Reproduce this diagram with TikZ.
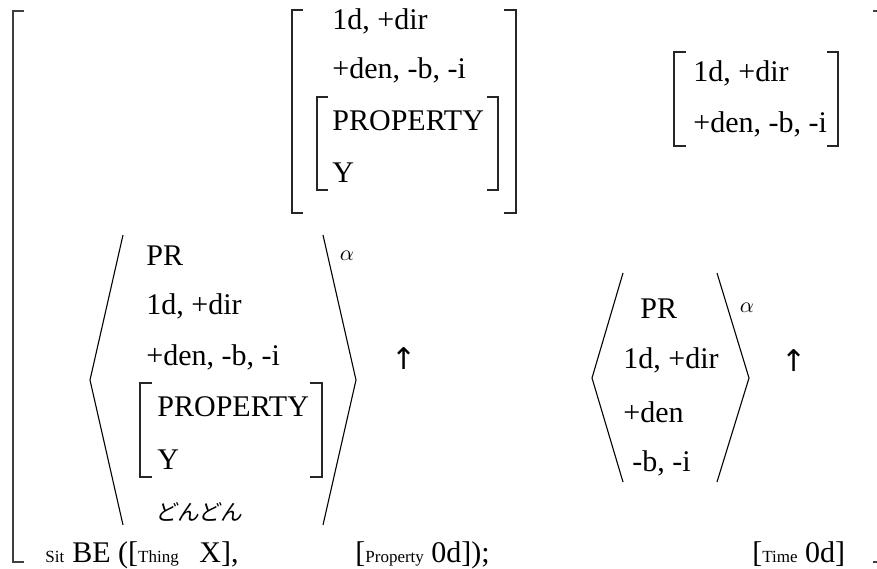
\documentclass[tikz,border=0pt]{standalone}
\usepackage{fontspec}
\setmainfont{Liberation Serif}
\newfontfamily\jpfont[FakeSlant=0.15]{Noto Sans CJK JP}
\newfontfamily\symfont{DejaVu Sans}
\newcommand{\subfont}{\fontsize{8.5}{10}\selectfont}

\begin{document}
\begin{tikzpicture}[x=0.5pt,y=-0.5pt,
  feat/.style={anchor=west,inner sep=0pt,font=\fontsize{15}{18}\selectfont},
  base/.style={anchor=base west,inner sep=0pt,font=\fontsize{15}{18}\selectfont},
  sup/.style={inner sep=0pt,font=\fontsize{11}{12}\selectfont},
  uparr/.style={inner sep=0pt,font=\fontsize{15}{16}\symfont},
  brk/.style={draw=black!85,line width=0.6pt},
  outer/.style={draw=black!75,line width=0.9pt},
  ang/.style={draw=black,line width=0.55pt}]
\useasboundingbox (0,0) rectangle (877,568);
% outer brackets
\draw[outer] (24,11)--(13,11)--(13,562)--(24,562);
\draw[outer] (873,11)--(878.6,11)--(878.6,562)--(873,562);
% top middle matrix
\node[feat] (t1) at (332,21) {1d, +dir};
\node[feat] (t2) at (332,70) {+den, -b, -i};
\node[feat] (t3) at (332,121) {PROPERTY};
\node[feat] (t4) at (332,173) {Y};
\draw[brk] (303,10)--(292,10)--(292,213)--(303,213);
\draw[brk] (504,10)--(516,10)--(516,213)--(504,213);
\draw[brk] (328,97)--(317,97)--(317,190)--(328,190);
\draw[brk] (487,97)--(498,97)--(498,190)--(487,190);
% top right matrix
\node[feat] (r1) at (693,73) {1d, +dir};
\node[feat] (r2) at (693,124) {+den, -b, -i};
\draw[brk] (686,52)--(674,52)--(674,146)--(686,146);
\draw[brk] (827,52)--(838,52)--(838,146)--(827,146);
% left angle group
\node[feat] (a1) at (146,256) {PR};
\node[feat] (a2) at (146,306) {1d, +dir};
\node[feat] (a3) at (146,357) {+den, -b, -i};
\node[feat] (a4) at (157,407) {PROPERTY};
\node[feat] (a5) at (157,460) {Y};
\node[feat,font=\fontsize{11}{13}\jpfont] (a6) at (155,512) {どんどん};
\draw[brk] (152,383)--(140,383)--(140,477)--(152,477);
\draw[brk] (310,383)--(322,383)--(322,477)--(310,477);
\draw[ang] (123,235)--(90,380)--(123,525);
\draw[ang] (323,235)--(356,380)--(323,525);
\node[sup] (alpha1) at (347,256) {$\alpha$};
\node[uparr] (up1) at (404,359) {↑};
% right angle group
\node[feat] (b1) at (640,309) {PR};
\node[feat] (b2) at (623,360) {1d, +dir};
\node[feat] (b3) at (623,412) {+den};
\node[feat] (b4) at (632,463) {-b, -i};
\draw[ang] (623,273)--(592,378)--(623,482);
\draw[ang] (717,273)--(749,378)--(717,482);
\node[sup] (alpha2) at (747,308) {$\alpha$};
\node[uparr] (up2) at (794,361) {↑};
% bottom line
\node[base] (sit) at (45,562) {\subfont Sit};
\node[base] (be) at (72,562) {BE ([{\subfont Thing}};
\node[base] (x) at (199,562) {X],};
\node[base] (prop) at (355,562) {[{\subfont Property} 0d]);};
\node[base] (time) at (752,562) {[{\subfont Time} 0d]};
\end{tikzpicture}
\end{document}
